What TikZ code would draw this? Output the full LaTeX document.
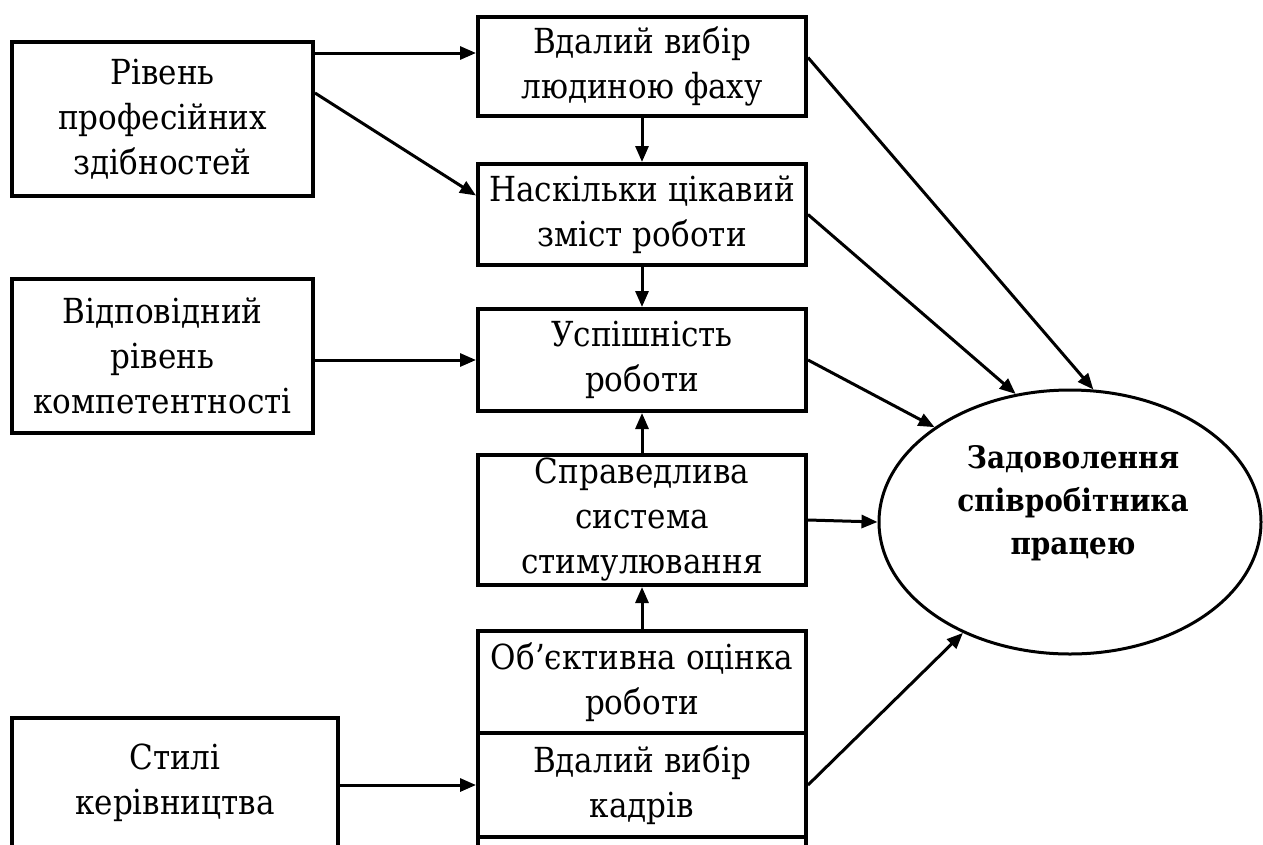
\documentclass[tikz,border=0pt]{standalone}
\usepackage{fontspec}
\setmainfont{DejaVu Serif Condensed}
\newfontfamily\serifc{DejaVu Serif Condensed}
\usetikzlibrary{arrows.meta,shapes.geometric}
\tikzset{
  box/.style={draw, line width=4pt, rectangle, inner sep=0pt, align=center,
    font=\serifc\fontsize{34.5}{45}\selectfont},
  lbox/.style={box, minimum width=301pt, minimum height=154pt},
  cbox/.style={box, minimum width=328pt},
  arr/.style={line width=3pt, -{Triangle[length=16pt,width=13pt]}},
  ell/.style={draw, line width=3pt, ellipse, inner sep=0pt, minimum width=382pt, minimum height=264pt},
  elltext/.style={align=center, font=\serifc\fontsize{31}{43}\selectfont\bfseries}
}
\begin{document}
\begin{tikzpicture}[x=1pt,y=-1pt]
\useasboundingbox (0,0) rectangle (1263,844);
\clip (0,0) rectangle (1263,844);
% left boxes
\node[lbox] (lb1) at (162.5,119) {Рівень\\професійних\\здібностей};
\node[lbox] (lb2) at (162.5,356) {Відповідний\\рівень\\компетентності};
\node[box, minimum width=326pt, minimum height=130pt] (lb3) at (175,783) {Стилі\\керівництва};
% centre column
\node[cbox, minimum height=99pt] (b1) at (642,66.5) {Вдалий вибір\\людиною фаху};
\node[cbox, minimum height=101pt] (b2) at (642,214.5) {Наскільки цікавий\\зміст роботи};
\node[cbox, minimum height=102pt] (b3) at (642,360) {Успішність\\роботи};
\node[cbox, minimum height=130pt] (b4) at (642,520) {Справедлива\\система\\стимулювання};
\node[cbox, minimum height=102pt] (b5) at (642,682) {Об’єктивна оцінка\\роботи};
\node[cbox, minimum height=104pt, anchor=north] (b6) at ([yshift=4pt]b5.south) {Вдалий вибір\\кадрів};
\node[cbox, minimum height=120pt, anchor=north] (b7) at ([yshift=4pt]b6.south) {};
% ellipse
\node[ell] (e) at (1070,522) {};
\node[elltext] (et) at (1073,503) {Задоволення\\співробітника\\працею};
% arrows from left
\draw[arr] ([yshift=13.5pt]b1.west -| lb1.east) -- ([yshift=13.5pt]b1.west);
\draw[arr] ([yshift=26pt]lb1.east) -- ([yshift=19pt]b2.west);
\draw[arr] (lb2.east |- b3.west) -- (b3.west);
\draw[arr] (lb3.east |- b6.west) -- (b6.west);
% vertical arrows
\draw[arr] (b1.south) -- (b2.north);
\draw[arr] (b2.south) -- (b3.north);
\draw[arr] (b4.north) -- (b3.south);
\draw[arr] (b5.north) -- (b4.south);
% arrows to ellipse
\draw[arr] ([yshift=9pt]b1.east) -- (e.80.5);
\draw[arr] (b2.east) -- (e.113);
\draw[arr] (b3.east) -- (e.145);
\draw[arr] (b4.east) -- (e.180);
\draw[arr] (b6.east) -- (e.226);
\end{tikzpicture}
\end{document}
